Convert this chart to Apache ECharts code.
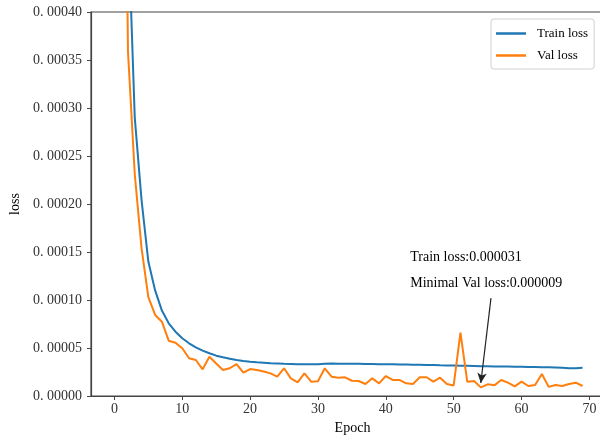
<!DOCTYPE html>
<html>
<head>
<meta charset="utf-8">
<script src="https://cdn.jsdelivr.net/npm/echarts@6/dist/echarts.min.js"></script>
<style>
  html, body { margin: 0; padding: 0; background: #fff; }
  #chart { width: 600px; height: 441px; }
</style>
</head>
<body>
<div id="chart"></div>
<script>
// Loss per epoch (index = epoch number)
const trainLoss = [
  0.0035, 0.0012, 0.000497, 0.00029, 0.000204, 0.00014, 0.00011, 0.000089, 0.0000757, 0.000067,
  0.0000601, 0.0000549, 0.0000507, 0.0000472, 0.0000445, 0.000042, 0.0000403, 0.0000389, 0.0000375, 0.0000365,
  0.0000357, 0.0000351, 0.0000346, 0.000034, 0.0000338, 0.0000335, 0.0000333, 0.000033, 0.000033, 0.000033,
  0.000033, 0.0000336, 0.0000338, 0.0000337, 0.0000336, 0.0000336, 0.0000335, 0.0000334, 0.0000333, 0.0000332,
  0.0000331, 0.000033, 0.0000328, 0.0000327, 0.0000326, 0.0000325, 0.0000323, 0.0000322, 0.000032, 0.0000319,
  0.0000318, 0.0000316, 0.0000314, 0.0000312, 0.000031, 0.0000309, 0.0000308, 0.0000307, 0.0000306, 0.0000305,
  0.0000304, 0.0000302, 0.0000301, 0.00003, 0.0000299, 0.0000297, 0.0000294, 0.000029, 0.000029, 0.0000293
];
const valLoss = [
  0.0022, 0.0010, 0.000359, 0.000231, 0.000154, 0.000103, 0.0000844, 0.0000774, 0.0000576, 0.0000555,
  0.0000497, 0.0000393, 0.0000375, 0.0000278, 0.0000409, 0.0000339, 0.0000271, 0.0000289, 0.0000333, 0.0000243,
  0.0000281, 0.000027, 0.0000255, 0.0000236, 0.0000201, 0.0000289, 0.0000184, 0.0000143, 0.0000236, 0.0000149,
  0.0000153, 0.0000289, 0.0000201, 0.0000191, 0.0000195, 0.0000159, 0.0000156, 0.0000125, 0.0000184, 0.0000132,
  0.0000208, 0.0000167, 0.0000167, 0.0000132, 0.0000125, 0.0000195, 0.0000195, 0.0000149, 0.0000191, 0.0000125,
  0.0000110, 0.0000659, 0.0000149, 0.0000156, 0.000009, 0.0000122, 0.0000111, 0.0000167, 0.0000139, 0.0000100,
  0.0000149, 0.0000104, 0.0000115, 0.0000229, 0.0000095, 0.0000115, 0.0000104, 0.0000125, 0.0000139, 0.0000104
];
const epochTicks = [0, 10, 20, 30, 40, 50, 60, 70];
const seriesNames = ['Train loss', 'Val loss'];
const noteLines = ['Train loss:0.000031', 'Minimal Val loss:0.000009'];

const FONT = 'Liberation Serif';
const toPairs = arr => arr.map((v, i) => [i, v]);

const chart = echarts.init(document.getElementById('chart'), null, { renderer: 'canvas' });

chart.setOption({
  animation: false,
  backgroundColor: '#fff',
  textStyle: { fontFamily: FONT, color: '#000' },
  grid: {
    left: 91, top: 12, width: 515, height: 384,
    containLabel: false,
    outerBoundsMode: 'none',
    show: true, borderColor: '#444', borderWidth: 1.2, backgroundColor: 'transparent'
  },
  legend: {
    orient: 'vertical',
    left: 491, top: 19,
    data: seriesNames,
    icon: 'rect',
    itemWidth: 30, itemHeight: 2.5, itemGap: 9,
    padding: [8, 6, 7, 5],
    backgroundColor: '#fff',
    borderColor: '#d0d0d0', borderWidth: 1, borderRadius: 3,
    textStyle: { fontFamily: FONT, fontSize: 13, color: '#000', padding: [0, 0, 0, 6] }
  },
  xAxis: {
    type: 'value',
    min: -3.45, max: 72.45,
    name: 'Epoch', nameLocation: 'middle', nameGap: 24,
    nameTextStyle: { fontFamily: FONT, fontSize: 14, color: '#000', padding: [0, 0, 0, 8] },
    splitLine: { show: false },
    axisLine: { show: true, onZero: false, lineStyle: { color: '#444', width: 1.2 } },
    axisTick: { show: true, customValues: epochTicks, length: 4, lineStyle: { color: '#444' } },
    axisLabel: { customValues: epochTicks, margin: 6, fontFamily: FONT, fontSize: 14, color: '#333' }
  },
  yAxis: {
    type: 'value',
    min: 0, max: 0.0004, interval: 0.00005,
    name: 'loss', nameLocation: 'middle', nameGap: 69,
    nameTextStyle: { fontFamily: FONT, fontSize: 14, color: '#000' },
    splitLine: { show: false },
    axisLine: { show: true, onZero: false, lineStyle: { color: '#444', width: 1.2 } },
    axisTick: { show: true, length: 4, lineStyle: { color: '#444' } },
    axisLabel: {
      margin: 9, fontFamily: FONT, fontSize: 14, color: '#333',
      formatter: v => v.toFixed(5).replace('.', '. ')
    }
  },
  series: [
    {
      name: seriesNames[0],
      type: 'line',
      data: toPairs(trainLoss),
      showSymbol: false, symbol: 'none',
      color: '#1f77b4',
      lineStyle: { width: 2, color: '#1f77b4' },
      clip: true, silent: true
    },
    {
      name: seriesNames[1],
      type: 'line',
      data: toPairs(valLoss),
      showSymbol: false, symbol: 'none',
      color: '#ff7f0e',
      lineStyle: { width: 2, color: '#ff7f0e' },
      clip: true, silent: true,
      markLine: {
        silent: true,
        animation: false,
        symbol: ['none', 'arrow'],
        symbolSize: [7, 10],
        label: { show: false },
        lineStyle: { color: '#222', width: 1.2, type: 'solid' },
        data: [[
          { coord: [55.5, 0.000102], symbol: 'none' },
          { coord: [54, 0.0000135], symbol: 'arrow' }
        ]]
      },
      markPoint: {
        silent: true,
        animation: false,
        symbol: 'circle', symbolSize: 0,
        label: {
          show: true, position: 'right', distance: 0,
          fontFamily: FONT, fontSize: 14, color: '#000'
        },
        data: [
          { coord: [43.6, 0.0001448], label: { formatter: noteLines[0] } },
          { coord: [43.6, 0.0001177], label: { formatter: noteLines[1] } }
        ]
      }
    }
  ]
});
</script>
</body>
</html>
